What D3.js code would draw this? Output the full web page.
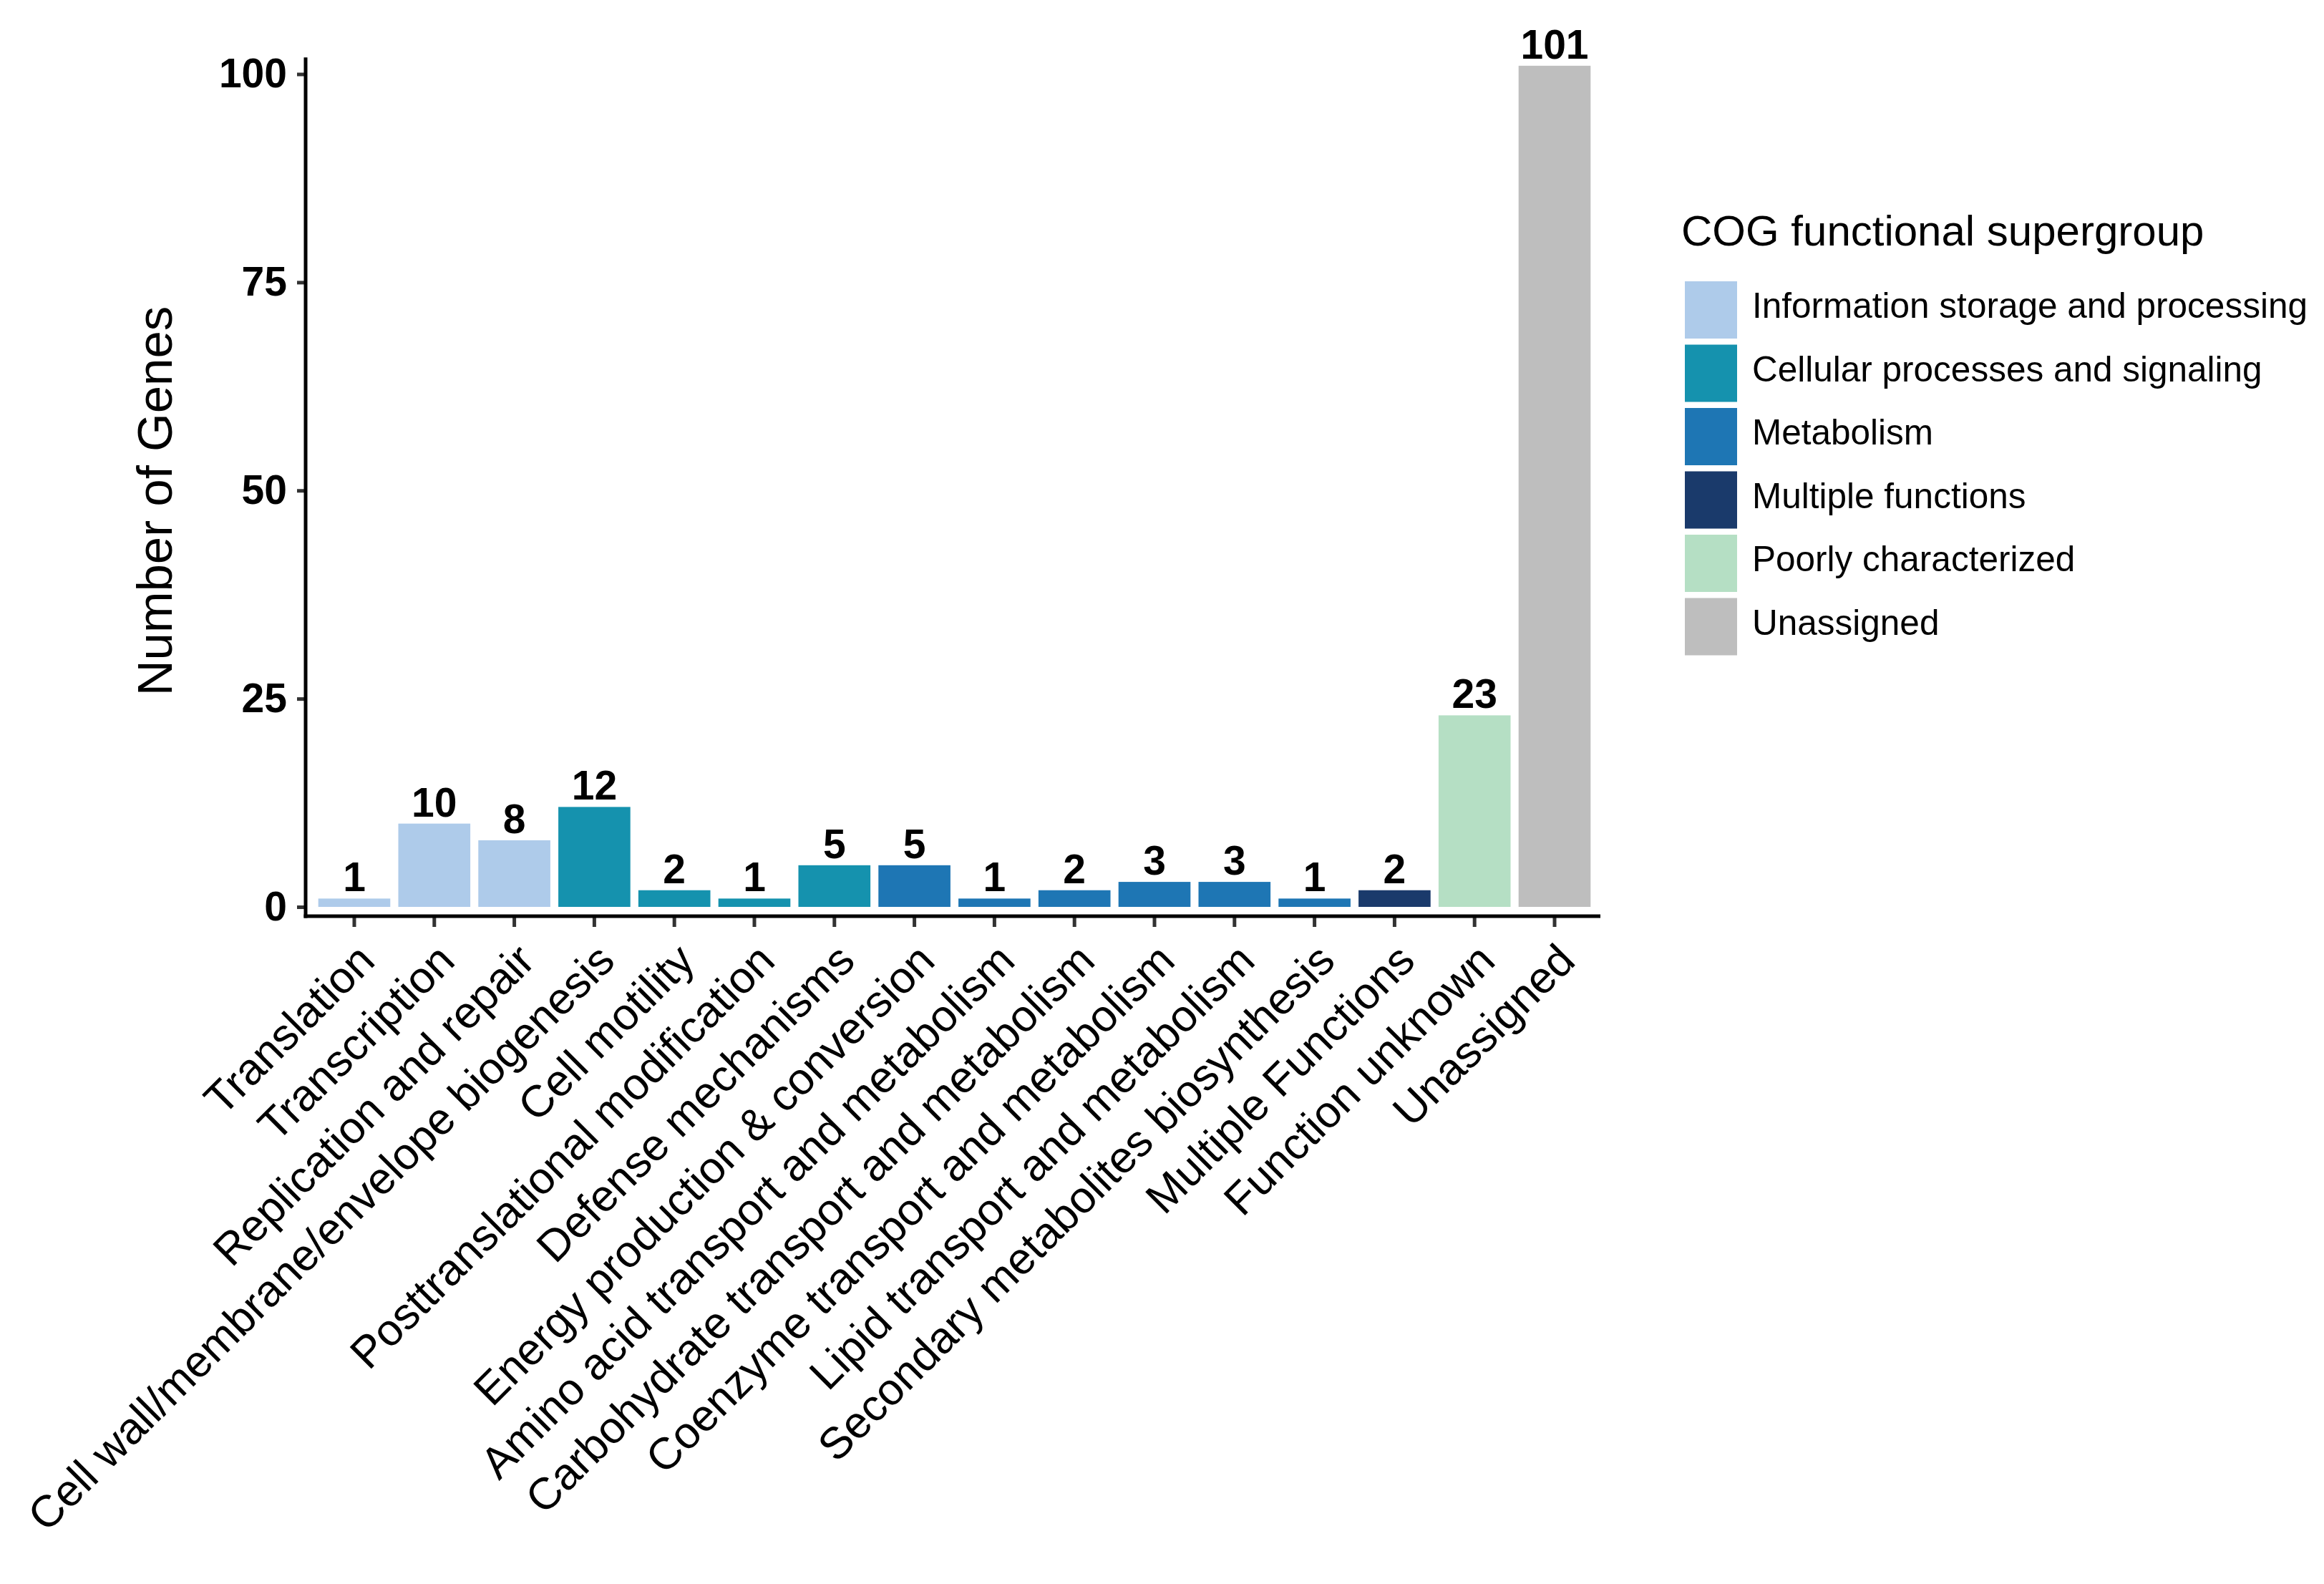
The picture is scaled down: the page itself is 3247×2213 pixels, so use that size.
<!DOCTYPE html>
<html>
<head>
<meta charset="utf-8">
<script src="https://cdn.jsdelivr.net/npm/d3@7"></script>
<style>
html,body{margin:0;padding:0;background:#fff;}
svg{display:block;font-family:"Liberation Sans",Arial,sans-serif;}
</style>
</head>
<body>
<svg id="chart" width="3247" height="2213"></svg>
<script>
const categories = ["Translation","Transcription","Replication and repair","Cell wall/membrane/envelope biogenesis","Cell motility","Posttranslational modification","Defense mechanisms","Energy production & conversion","Amino acid transport and metabolism","Carbohydrate transport and metabolism","Coenzyme transport and metabolism","Lipid transport and metabolism","Secondary metabolites biosynthesis","Multiple Functions","Function unknown","Unassigned"];
const counts = [1,10,8,12,2,1,5,5,1,2,3,3,1,2,23,101];
const groups = ["Information storage and processing","Information storage and processing","Information storage and processing","Cellular processes and signaling","Cellular processes and signaling","Cellular processes and signaling","Cellular processes and signaling","Metabolism","Metabolism","Metabolism","Metabolism","Metabolism","Metabolism","Multiple functions","Poorly characterized","Unassigned"];
const supergroups = ["Information storage and processing","Cellular processes and signaling","Metabolism","Multiple functions","Poorly characterized","Unassigned"];
const groupColors = ["#aecbea","#1592ae","#1e76b4","#1a3a6b","#b5dfc4","#bebebe"];
const yTicks = [0,25,50,75,100];

const data = categories.map((c,i)=>({cat:c,value:counts[i],group:groups[i]}));
const svg = d3.select("#chart");
const color = d3.scaleOrdinal().domain(supergroups).range(groupColors);

const x = d3.scaleBand().domain(categories).range([433.5, 2233.5]).padding(0.1);
const y = d3.scaleLinear().domain([0,100]).range([1267,103.5]);

// bars
svg.append("g").selectAll("rect").data(data).join("rect")
  .attr("x", d=>x(d.cat)).attr("width", x.bandwidth())
  .attr("y", d=>y(d.value)).attr("height", d=>y(0)-y(d.value))
  .attr("fill", d=>color(d.group));

// value labels
svg.append("g").selectAll("text").data(data).join("text")
  .attr("x", d=>x(d.cat)+x.bandwidth()/2)
  .attr("y", d=>y(d.value)-10)
  .attr("text-anchor","middle")
  .attr("font-weight","bold").attr("font-size",57).attr("fill","#000")
  .text(d=>d.value);

// y axis
const yAxis = svg.append("g").attr("transform","translate(427,0)")
  .call(d3.axisLeft(y).tickValues(yTicks).tickSize(12).tickPadding(14));
yAxis.select(".domain").remove();
yAxis.selectAll(".tick line").attr("stroke","#333").attr("stroke-width",5);
yAxis.selectAll(".tick text").attr("font-size",57).attr("font-weight","bold")
  .attr("fill","#000").attr("font-family","Liberation Sans, Arial, sans-serif");
svg.append("line").attr("x1",427).attr("x2",427).attr("y1",y(102)).attr("y2",1282.5)
  .attr("stroke","#000").attr("stroke-width",5);

// x axis
const xAxis = svg.append("g").attr("transform","translate(0,1280)")
  .call(d3.axisBottom(x).tickSize(15).tickFormat(""));
xAxis.select(".domain").remove();
xAxis.selectAll(".tick line").attr("stroke","#333").attr("stroke-width",5);
svg.append("line").attr("x1",424.5).attr("x2",2236).attr("y1",1280).attr("y2",1280)
  .attr("stroke","#000").attr("stroke-width",5);

// x labels rotated
svg.append("g").selectAll("text").data(categories).join("text")
  .attr("transform", d=>`translate(${x(d)+x.bandwidth()/2},1314) rotate(-45)`)
  .attr("text-anchor","end").attr("dy","0.72em")
  .attr("font-size",62).attr("fill","#000")
  .text(d=>d);

// y title
svg.append("text").attr("transform","translate(240,700) rotate(-90)")
  .attr("text-anchor","middle").attr("font-size",69).attr("fill","#000")
  .text("Number of Genes");

// legend
const lg = svg.append("g").attr("transform","translate(2354,0)");
lg.append("text").attr("x",-5).attr("y",343).attr("font-size",60).attr("fill","#000")
  .text("COG functional supergroup");
const items = lg.selectAll("g.item").data(supergroups).join("g").attr("class","item")
  .attr("transform",(d,i)=>`translate(0,${393+i*88.5})`);
items.append("rect").attr("width",73).attr("height",80).attr("fill",d=>color(d));
items.append("text").attr("x",94).attr("y",34).attr("dy","0.35em")
  .attr("font-size",49.5).attr("fill","#000").text(d=>d);
</script>
</body>
</html>
